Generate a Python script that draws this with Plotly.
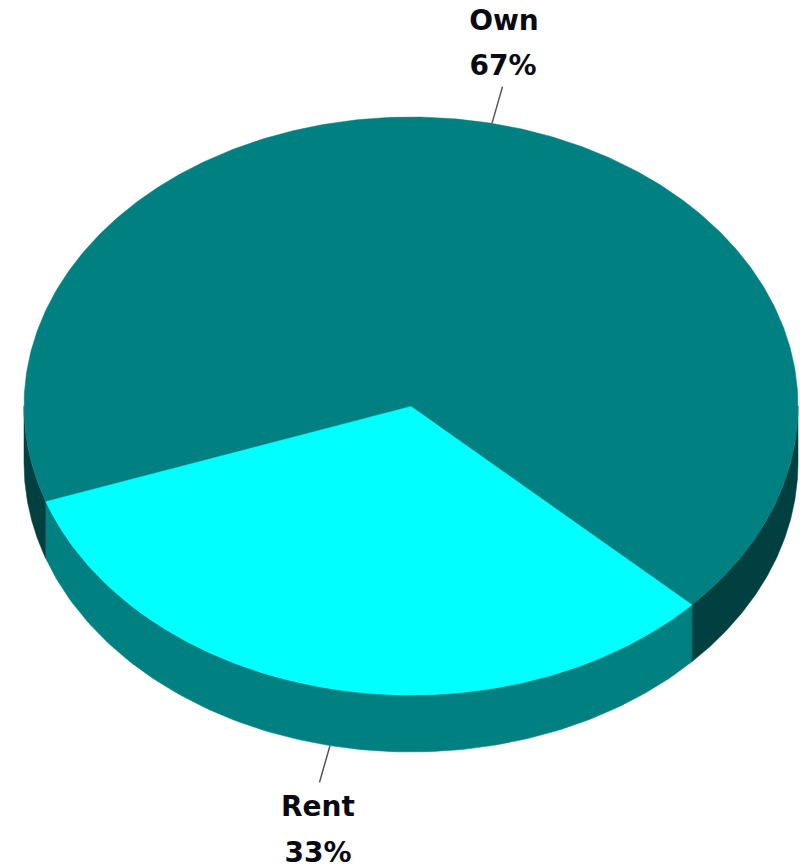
import numpy as np
import plotly.graph_objects as go

labels = ["Rent", "Own"]
values = [32.6, 67.4]
top_colors = ["#00FFFF", "#008080"]
side_colors = ["#008080", "#004040"]
text_positions = {"Own": [(504, 23), (503, 68)], "Rent": [(318, 809), (318, 855)]}

CX, CY, RX, RY, DEPTH = 411, 406, 387, 289, 57
START = 43.4
LEADER = 1.13


def pt(deg, r=1.0, dy=0.0):
    a = np.radians(deg)
    return CX + RX * r * np.cos(a), CY + RY * r * np.sin(a) + dy


fig = go.Figure()


def poly(xs, ys, color):
    fig.add_trace(go.Scatter(x=xs, y=ys, mode="lines", fill="toself", fillcolor=color,
                             line=dict(color=color, width=0.5), hoverinfo="skip", showlegend=False))


spans = []
a0 = START
for v in values:
    a1 = a0 + v / sum(values) * 360
    spans.append((a0, a1))
    a0 = a1

# side walls (only the front half, 0-180 degrees, is visible)
for (a0, a1), col in zip(spans, side_colors):
    for lo, hi in [(a0, a1), (a0 - 360, a1 - 360)]:
        l, h = max(lo, 0), min(hi, 180)
        if h > l:
            t = np.linspace(l, h, 120)
            x1, y1 = pt(t)
            x2, y2 = pt(t[::-1], dy=DEPTH)
            poly(np.r_[x1, x2, x1[0]], np.r_[y1, y2, y1[0]], col)

# top faces
for (a0, a1), col in zip(spans, top_colors):
    t = np.linspace(a0, a1, 400)
    x, y = pt(t)
    poly(np.r_[CX, x, CX], np.r_[CY, y, CY], col)

# leaders and labels
for lab, v, (a0, a1) in zip(labels, values, spans):
    mid = (a0 + a1) / 2
    dy = DEPTH if np.sin(np.radians(mid)) > 0 else 0
    x0, y0 = pt(mid, 1.0, dy)
    x1, y1 = pt(mid, LEADER, dy)
    fig.add_trace(go.Scatter(x=[x0, x1], y=[y0, y1], mode="lines",
                             line=dict(color="#555555", width=1.5), hoverinfo="skip", showlegend=False))
    pos = text_positions[lab]
    fig.add_trace(go.Scatter(x=[p[0] for p in pos], y=[p[1] for p in pos], mode="text",
                             text=[lab, f"{round(v)}%"], textposition="middle center",
                             textfont=dict(family="DejaVu Sans", size=28, color="#0a0a14", weight="bold"),
                             cliponaxis=False, hoverinfo="skip", showlegend=False))

fig.update_layout(
    width=800, height=868, margin=dict(l=0, r=0, t=0, b=0),
    paper_bgcolor="white", plot_bgcolor="white", showlegend=False,
    xaxis=dict(range=[0, 800], visible=False, fixedrange=True),
    yaxis=dict(range=[868, 0], visible=False, fixedrange=True),
)
fig.write_html("out.html", config={"displayModeBar": False},
               post_script="document.body.style.margin='0';document.documentElement.style.overflow='hidden';")
